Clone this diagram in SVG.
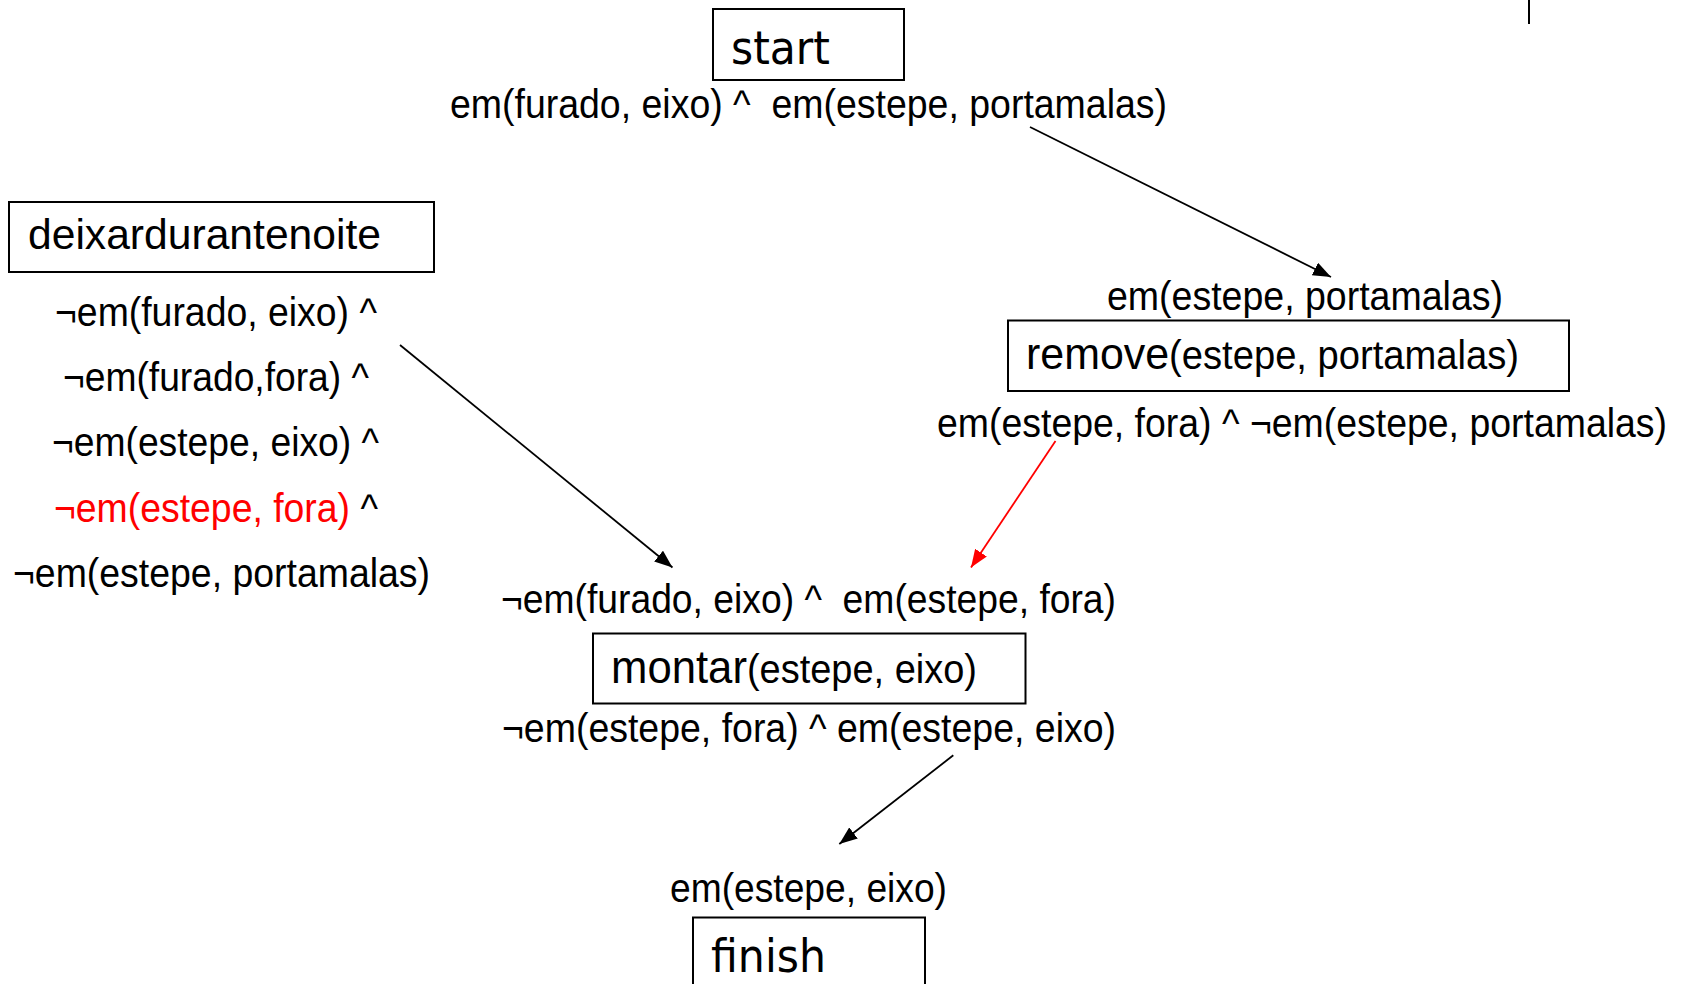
<svg xmlns="http://www.w3.org/2000/svg" width="1687" height="984" viewBox="0 0 1687 984">
<style>
.box{fill:#fff;stroke:#000;stroke-width:2}
.lbl{font-family:"Liberation Sans",Arial,sans-serif;font-size:40px;fill:#000}
.big{font-family:"DejaVu Sans",Verdana,sans-serif;font-size:46px;fill:#000}
.act{font-family:"Liberation Sans",Arial,sans-serif;fill:#000}
.cn{fill:none;stroke:#000;stroke-width:1.8}
.red{stroke:#f00}
</style>
<defs>
<marker id="ah" viewBox="0 0 18 14" refX="18" refY="7" markerWidth="18" markerHeight="14" markerUnits="userSpaceOnUse" orient="auto"><path d="M0,0 L18,7 L0,14 z" fill="#000"/></marker>
<marker id="ahr" viewBox="0 0 18 14" refX="18" refY="7" markerWidth="18" markerHeight="14" markerUnits="userSpaceOnUse" orient="auto"><path d="M0,0 L18,7 L0,14 z" fill="#f00"/></marker>
</defs>
<rect width="1687" height="984" fill="#fff"/>
<line x1="1529" y1="0" x2="1529" y2="24" stroke="#000" stroke-width="2"/>
<g id="connectors">
<line class="cn" x1="1030" y1="127" x2="1331" y2="277" marker-end="url(#ah)"/>
<line class="cn" x1="400" y1="345" x2="672.5" y2="567.5" marker-end="url(#ah)"/>
<line class="cn red" x1="1055.5" y1="441" x2="971" y2="567.5" marker-end="url(#ahr)"/>
<line class="cn" x1="953.3" y1="755.3" x2="839.3" y2="844" marker-end="url(#ah)"/>
</g>
<g id="start">
<rect class="box" x="713" y="9" width="191" height="71"/>
<text class="big" x="731" y="64" textLength="99" lengthAdjust="spacingAndGlyphs">start</text>
<text class="lbl" x="450" y="118" textLength="717" lengthAdjust="spacingAndGlyphs" xml:space="preserve">em(furado, eixo) ^  em(estepe, portamalas)</text>
</g>
<g id="deixardurantenoite">
<rect class="box" x="9" y="202" width="425" height="70"/>
<text class="act" x="28" y="249" font-size="42" textLength="353" lengthAdjust="spacingAndGlyphs">deixardurantenoite</text>
<text class="lbl" x="55" y="326" textLength="322" lengthAdjust="spacingAndGlyphs">¬em(furado, eixo) ^</text>
<text class="lbl" x="63" y="390.5" textLength="306" lengthAdjust="spacingAndGlyphs">¬em(furado,fora) ^</text>
<text class="lbl" x="52" y="456" textLength="327" lengthAdjust="spacingAndGlyphs">¬em(estepe, eixo) ^</text>
<text class="lbl" x="54" y="521.5" textLength="324" lengthAdjust="spacingAndGlyphs"><tspan fill="#f00">¬em(estepe, fora)</tspan> ^</text>
<text class="lbl" x="13" y="587" textLength="417" lengthAdjust="spacingAndGlyphs">¬em(estepe, portamalas)</text>
</g>
<g id="remove">
<text class="lbl" x="1107" y="310" textLength="396" lengthAdjust="spacingAndGlyphs">em(estepe, portamalas)</text>
<rect class="box" x="1008" y="320.5" width="561" height="70.5"/>
<text class="act" x="1026" y="368.5" textLength="493" lengthAdjust="spacingAndGlyphs"><tspan font-size="45">remove</tspan><tspan font-size="40">(estepe, portamalas)</tspan></text>
<text class="lbl" x="937" y="437" textLength="730" lengthAdjust="spacingAndGlyphs">em(estepe, fora) ^ ¬em(estepe, portamalas)</text>
</g>
<g id="montar">
<text class="lbl" x="501" y="613" textLength="615" lengthAdjust="spacingAndGlyphs" xml:space="preserve">¬em(furado, eixo) ^  em(estepe, fora)</text>
<rect class="box" x="593" y="633.5" width="432.5" height="70"/>
<text class="act" x="611" y="683" textLength="366" lengthAdjust="spacingAndGlyphs"><tspan font-size="46">montar</tspan><tspan font-size="40">(estepe, eixo)</tspan></text>
<text class="lbl" x="502" y="742" textLength="614" lengthAdjust="spacingAndGlyphs">¬em(estepe, fora) ^ em(estepe, eixo)</text>
</g>
<g id="finish">
<text class="lbl" x="670" y="901.5" textLength="277" lengthAdjust="spacingAndGlyphs">em(estepe, eixo)</text>
<rect class="box" x="693" y="917.5" width="232" height="71"/>
<text class="big" x="711" y="971.5" textLength="115" lengthAdjust="spacingAndGlyphs">finish</text>
</g>
</svg>
